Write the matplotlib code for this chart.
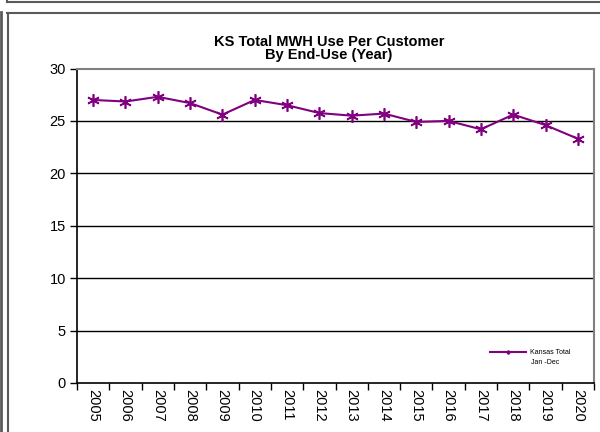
import matplotlib
matplotlib.use("Agg")
import matplotlib.pyplot as plt
from matplotlib.lines import Line2D
import numpy as np

years = ["2005", "2006", "2007", "2008", "2009", "2010", "2011", "2012",
         "2013", "2014", "2015", "2016", "2017", "2018", "2019", "2020"]
values = [27.0, 26.85, 27.3, 26.7, 25.6, 27.0, 26.5, 25.75,
          25.5, 25.7, 24.9, 25.0, 24.2, 25.6, 24.6, 23.3]
yticks = [0, 5, 10, 15, 20, 25, 30]
series_name = "Kansas Total"
series_sub = "Jan -Dec"

plt.rcParams['font.family'] = ['Liberation Sans', 'DejaVu Sans']

W, H = 600, 432
fig = plt.figure(figsize=(6, 4.32), dpi=100)

def px(x0, y0, x1, y1):
    return [x0 / W, (H - y1) / H, (x1 - x0) / W, (y1 - y0) / H]

# outer frames
fc = "#5a5a5a"
def fline(xs, ys, lw=1.5):
    fig.add_artist(Line2D([x / W for x in xs], [1 - y / H for y in ys],
                          color=fc, lw=lw, transform=fig.transFigure))
fline([7, 600], [1.5, 1.5])
fline([7, 7], [0, 1.5])
fline([7, 600], [12.5, 12.5])
fline([7.5, 7.5], [12.5, 432])
fline([0.8, 0.8], [12, 432], lw=2)

ax = fig.add_axes(px(77, 68.5, 594, 383))
x = np.arange(len(years))
ax.plot(x, values, color="#800080", lw=1.5, marker=(6, 2, 0), ms=9,
        mew=1.2, label=series_name)
ax.set_xlim(-0.5, len(years) - 0.5)
ax.set_ylim(0, 30)
ax.set_yticks(yticks)
ax.set_yticklabels([str(t) for t in yticks], fontsize=10.5)
ax.set_xticks(x)
ax.set_xticklabels(years, rotation=270, fontsize=10.5)
ax.set_xticks(np.arange(-0.5, len(years)), minor=True)
ax.tick_params(axis='x', which='major', length=0, pad=4)
ax.tick_params(axis='x', which='minor', length=5, direction='out', width=1)
ax.tick_params(axis='y', length=5, direction='out', width=1, pad=3)
for y in yticks[1:-1]:
    ax.axhline(y, color="black", lw=1, zorder=0)
ax.spines['top'].set_color("#808080")
ax.spines['right'].set_color("#808080")
ax.spines['top'].set_linewidth(1.5)
ax.spines['right'].set_linewidth(1.5)
ax.spines['left'].set_linewidth(1.2)
ax.spines['bottom'].set_linewidth(1.2)

fig.text(329 / W, 1 - 48.5 / H, "KS Total MWH Use Per Customer\nBy End-Use (Year)",
         ha='center', va='center', fontsize=10.5, fontweight='bold', linespacing=0.95)

leg = ax.legend(loc='center left', bbox_to_anchor=(490 / W, 1 - 353 / H),
                bbox_transform=fig.transFigure, fontsize=5, frameon=False,
                markerscale=0.3, handlelength=5.2, handletextpad=0.6,
                borderpad=0, borderaxespad=0)
fig.text(531 / W, 1 - 362 / H, series_sub, ha='left', va='center', fontsize=5)

fig.savefig("out.png", dpi=100)
